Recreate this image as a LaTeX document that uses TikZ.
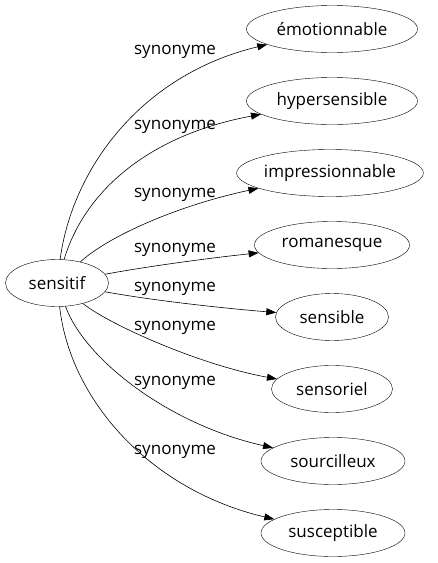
\documentclass[tikz,border=0pt]{standalone}
\usepackage{fontspec}
\setmainfont{Open Sans}
\usetikzlibrary{arrows.meta,shapes.geometric}

\begin{document}
\begin{tikzpicture}[
  x=1pt, y=-1pt,
  word/.style={draw, ellipse, inner sep=0pt, minimum height=47pt, font=\fontsize{17}{20}\selectfont},
  lbl/.style={inner sep=0pt, font=\fontsize{17}{20}\selectfont},
  arrow/.style={-{Triangle[length=10pt,width=7pt]}, line width=0.6pt}
]
\useasboundingbox (0,0) rectangle (437,563);

\node[word, minimum width=103pt] (sensitif) at (57,283) {sensitif};
\node[word, minimum width=171pt] (emot) at (332,29) {émotionnable};
\node[word, minimum width=171pt] (hyper) at (332,101) {hypersensible};
\node[word, minimum width=185pt] (impr) at (330,173) {impressionnable};
\node[word, minimum width=155pt] (roman) at (332,245) {romanesque};
\node[word, minimum width=113pt] (sensible) at (332,317) {sensible};
\node[word, minimum width=121pt] (sensoriel) at (332,389) {sensoriel};
\node[word, minimum width=144pt] (sourc) at (333,461) {sourcilleux};
\node[word, minimum width=144pt] (suscept) at (333,533) {susceptible};

\node[lbl] (l1) at (175,52) {synonyme};
\node[lbl] (l2) at (175,127) {synonyme};
\node[lbl] (l3) at (175,195) {synonyme};
\node[lbl] (l4) at (175,250) {synonyme};
\node[lbl] (l5) at (175,289) {synonyme};
\node[lbl] (l6) at (175,328) {synonyme};
\node[lbl] (l7) at (175,383) {synonyme};
\node[lbl] (l8) at (175,452) {synonyme};

\draw[arrow] (sensitif) .. controls (72,170) and (140,75) .. (emot);
\draw[arrow] (sensitif) .. controls (85,190) and (150,135) .. (hyper);
\draw[arrow] (sensitif) .. controls (110,235) and (180,205) .. (impr);
\draw[arrow] (sensitif) .. controls (150,266) and (210,258) .. (roman);
\draw[arrow] (sensitif) .. controls (150,300) and (220,308) .. (sensible);
\draw[arrow] (sensitif) .. controls (110,325) and (200,365) .. (sensoriel);
\draw[arrow] (sensitif) .. controls (85,360) and (170,425) .. (sourc);
\draw[arrow] (sensitif) .. controls (70,400) and (150,490) .. (suscept);
\end{tikzpicture}
\end{document}
